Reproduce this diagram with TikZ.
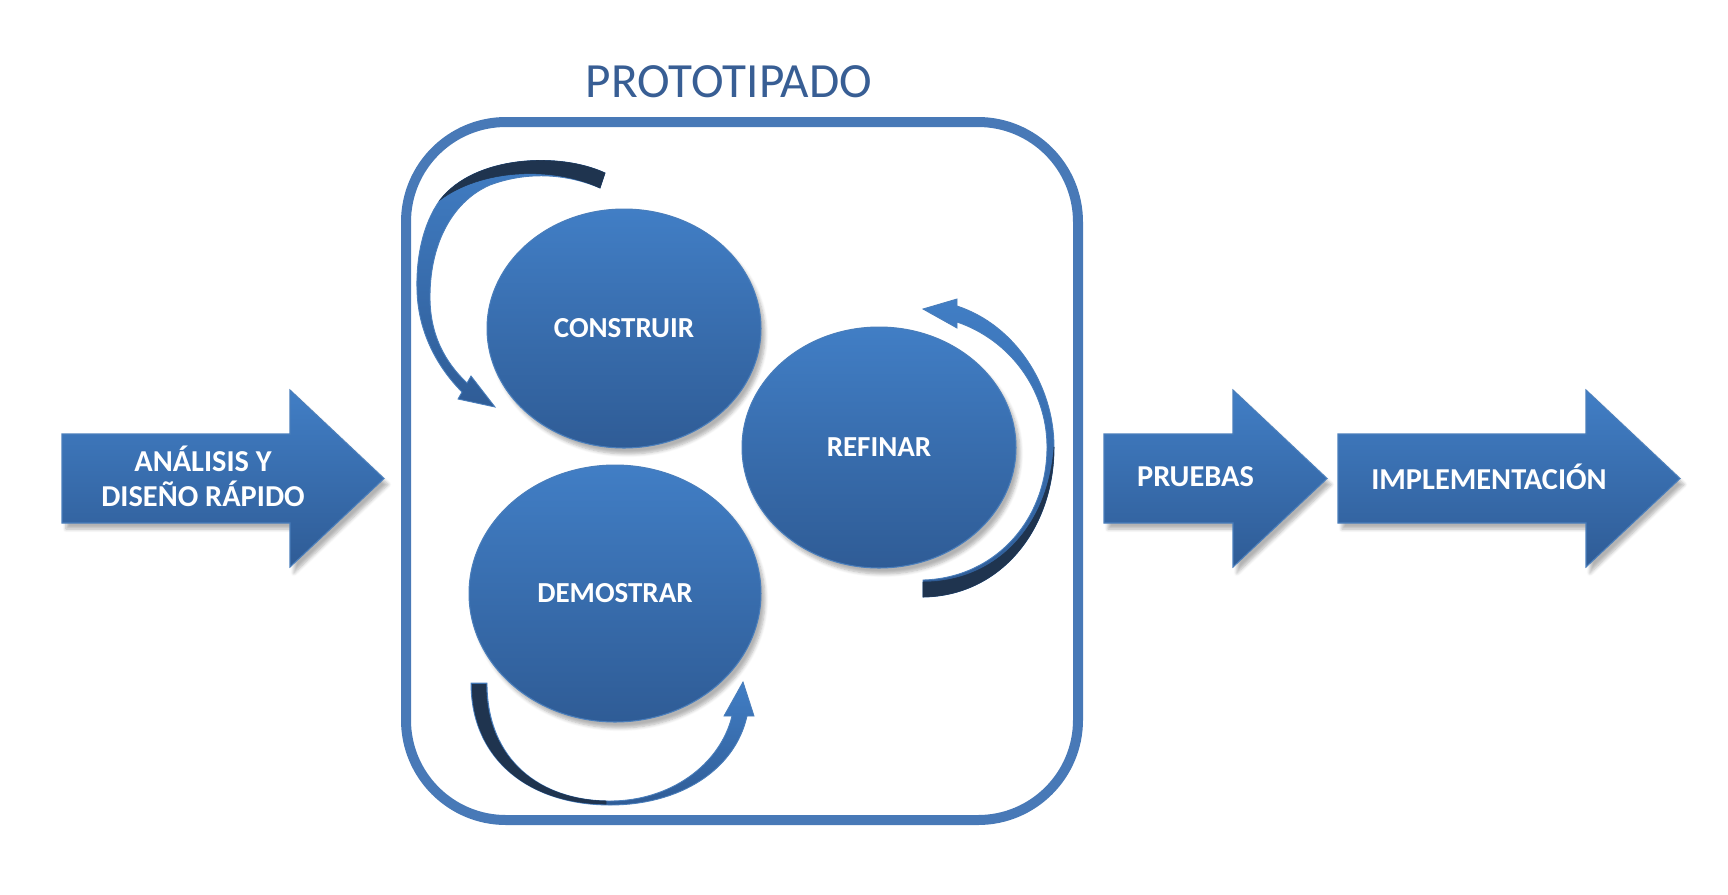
\documentclass[tikz,border=0pt]{standalone}
\usepackage{fontspec}
\setmainfont{Carlito}
\usetikzlibrary{shapes.geometric,shadows.blur}

\definecolor{topblue}{RGB}{65,126,197}
\definecolor{botblue}{RGB}{47,92,150}
\definecolor{edgeblue}{RGB}{74,126,187}
\definecolor{boxblue}{RGB}{72,121,183}
\definecolor{navy}{RGB}{31,52,79}
\definecolor{titleblue}{RGB}{56,94,148}

\begin{document}
\begin{tikzpicture}[x=0.02cm,y=-0.02cm,
    softshadow/.style={blur shadow={shadow xshift=0.08cm,shadow yshift=-0.12cm,shadow opacity=30,shadow blur steps=6}},
    bubble/.style={ellipse,draw=edgeblue,line width=0.6pt,top color=topblue,bottom color=botblue,
        inner sep=0pt,text=white,font=\bfseries\fontsize{16.5}{20}\selectfont,softshadow},
    blockarrow/.style={draw=edgeblue,line width=0.6pt,top color=topblue,bottom color=botblue,softshadow},
    arrowtext/.style={text=white,align=center,font=\bfseries\fontsize{17.3}{20}\selectfont},
    curlband/.style={draw=edgeblue,line width=0.5pt,top color=topblue,bottom color=botblue},
]
\useasboundingbox (0,0) rectangle (1728,894);

% prototype frame
\node[text=titleblue,font=\fontsize{28}{32}\selectfont] (titulo) at (729,82) {PROTOTIPADO};
\draw[boxblue,line width=0.2cm,rounded corners=2cm] (406,122) rectangle (1078,820);

% the three steps
\node[bubble,minimum width=5.48cm,minimum height=4.78cm] (construir) at (624,328.5) {CONSTRUIR};
\node[bubble,minimum width=5.48cm,minimum height=4.82cm] (refinar) at (879,447.5) {REFINAR};
\node[bubble,minimum width=5.84cm,minimum height=5.14cm] (demostrar) at (615,593.5) {DEMOSTRAR};

% curled arrows round the steps
\path[curlband] (605,173) .. controls (560,152) and (475,155) .. (440,200)
    .. controls (422,225) and (416,260) .. (417,290)
    .. controls (418,335) and (440,370) .. (462,392)
    -- (458,399) -- (495,407) -- (471,376) -- (467,383)
    .. controls (445,362) and (430,335) .. (430,297)
    .. controls (430,240) and (455,200) .. (490,185)
    .. controls (530,170) and (570,175) .. (600,188) -- cycle;
\draw[navy,fill=navy,line width=0.3pt] (605,173) .. controls (560,152) and (475,155) .. (440,200)
    .. controls (480,170) and (550,165) .. (600,188) -- cycle;

\path[curlband] (471,683) .. controls (471,760) and (530,805) .. (610,805)
    .. controls (680,805) and (735,770) .. (747,716)
    -- (754,716) -- (743,682) -- (724,716) -- (732,716)
    .. controls (720,765) and (670,801) .. (610,801)
    .. controls (540,801) and (487,760) .. (487,683) -- cycle;
\draw[navy,fill=navy,line width=0.3pt] (472,684) .. controls (472,760) and (530,804) .. (606,804)
    -- (606,801) .. controls (540,800) and (486,760) .. (486,684) -- cycle;

\path[curlband] (957,306) .. controls (1015,325) and (1054,385) .. (1054,447)
    .. controls (1054,530) and (1000,596) .. (923,597) -- (923,580)
    .. controls (995,578) and (1047,520) .. (1047,447)
    .. controls (1047,390) and (1010,340) .. (957,322)
    -- (957,328) -- (923,309) -- (957,299) -- cycle;
\draw[navy,fill=navy,line width=0.3pt] (1054,447) .. controls (1054,530) and (1000,596) .. (923,597)
    -- (923,582) .. controls (995,582) and (1048,528) .. (1054,447) -- cycle;

% block arrows of the process
\foreach \xs/\xh/\nm/\txt in {62/290/analisis/{ANÁLISIS Y\\DISEÑO RÁPIDO},
    1104/1233/pruebas/PRUEBAS,1338/1586/implementacion/IMPLEMENTACIÓN}{
  \draw[blockarrow] (\xs,434) -- (\xh,434) -- (\xh,390) -- (\xh+94,478.5)
      -- (\xh,567) -- (\xh,523) -- (\xs,523) -- cycle;
  \node[arrowtext] (\nm) at ({(\xs+\xh+94)/2-20},476.5) {\txt};
}
\end{tikzpicture}
\end{document}
